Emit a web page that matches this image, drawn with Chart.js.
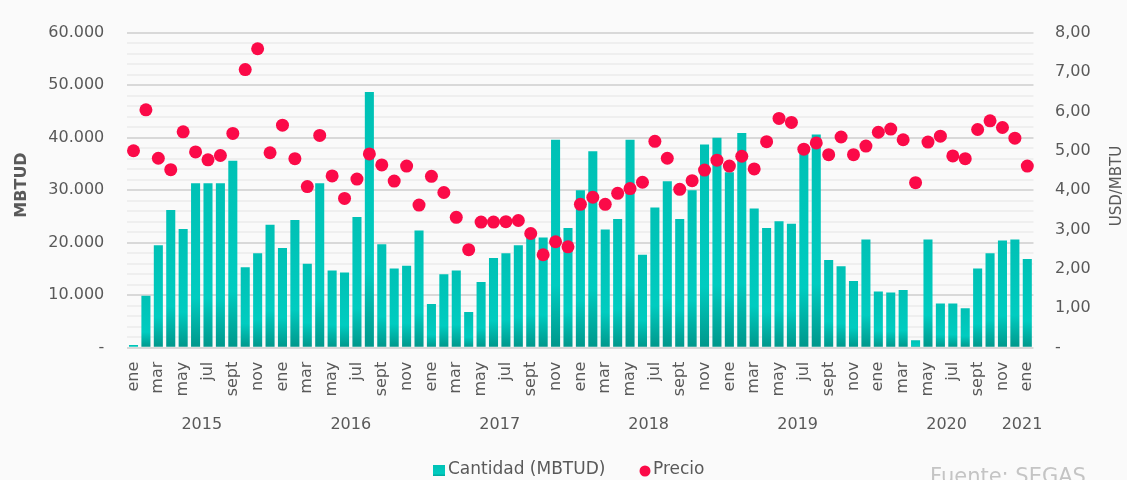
<!DOCTYPE html>
<html><head><meta charset="utf-8">
<script src="https://cdn.jsdelivr.net/npm/chart.js@4.4.1/dist/chart.umd.min.js"></script>
<style>html,body{margin:0;padding:0;background:#fafafa;overflow:hidden}#wrap{width:1127px;height:480px;position:relative}</style>
</head><body><div id="wrap"><canvas id="c" width="1127" height="480"></canvas></div>
<script>
const categories = [
 'ene','feb','mar','abr','may','jun','jul','ago','sept','oct','nov','dic',
 'ene','feb','mar','abr','may','jun','jul','ago','sept','oct','nov','dic',
 'ene','feb','mar','abr','may','jun','jul','ago','sept','oct','nov','dic',
 'ene','feb','mar','abr','may','jun','jul','ago','sept','oct','nov','dic',
 'ene','feb','mar','abr','may','jun','jul','ago','sept','oct','nov','dic',
 'ene','feb','mar','abr','may','jun','jul','ago','sept','oct','nov','dic',
 'ene'];
const years = ['2015','2016','2017','2018','2019','2020','2021'];
const yearFirstIndex = [0,12,24,36,48,60,72];
const yearLastIndex = [11,23,35,47,59,71,72];
const cantidad = [
 500,9900,19500,26200,22600,31300,31300,31300,35600,15300,18000,23400,
 19000,24300,16000,31300,14700,14300,24900,48700,19700,15100,15600,22300,
 8300,14000,14700,6800,12500,17100,18000,19500,21500,21000,39600,22800,
 30000,37400,22500,24500,39600,17700,26700,31700,24500,30000,38700,40000,
 33400,40900,26500,22800,24100,23600,37800,40600,16700,15500,12700,20600,
 10700,10500,11000,1400,20600,8400,8400,7500,15100,18000,20400,20600,
 16900];
const precio = [
 5.00,6.04,4.81,4.52,5.48,4.97,4.77,4.88,5.44,7.06,7.59,4.95,
 5.65,4.80,4.09,5.39,4.36,3.79,4.28,4.92,4.64,4.23,4.61,3.62,
 4.35,3.94,3.31,2.49,3.19,3.19,3.20,3.23,2.90,2.36,2.69,2.56,
 3.64,3.82,3.64,3.92,4.04,4.20,5.24,4.81,4.02,4.24,4.51,4.76,
 4.61,4.86,4.54,5.23,5.82,5.72,5.04,5.20,4.90,5.35,4.90,5.12,
 5.47,5.55,5.28,4.19,5.22,5.37,4.87,4.80,5.54,5.76,5.59,5.32,
 4.61];
const seriesNames = ['Cantidad (MBTUD)','Precio'];
const leftTitle = 'MBTUD';
const rightTitle = 'USD/MBTU';
const sourceText = 'Fuente: SEGAS';

const FONT = "'DejaVu Sans', sans-serif";
const TXT = '#595959';
const RED = '#fb0a48';

function barGradient(ctx, top, bottom) {
  const g = ctx.createLinearGradient(0, bottom, 0, top);
  g.addColorStop(0, '#00968a');
  g.addColorStop(0.3, '#00ccc0');
  g.addColorStop(1, '#00c1b5');
  return g;
}

const fmtThousands = v => String(v).replace(/\B(?=(\d{3})+(?!\d))/g, '.');

const extras = {
  id: 'extras',
  afterDraw(chart) {
    const c = chart.ctx;
    const x = chart.scales.x;
    c.save();
    c.fillStyle = TXT;
    c.font = '16px ' + FONT;
    c.textAlign = 'center';
    c.textBaseline = 'middle';
    years.forEach((yr, i) => {
      const px = (x.getPixelForValue(yearFirstIndex[i]) + x.getPixelForValue(yearLastIndex[i])) / 2;
      c.fillText(yr, Math.min(px, 1022), 425);
    });
    c.save();
    c.translate(22, 185);
    c.rotate(-Math.PI / 2);
    c.font = 'bold 16px ' + FONT;
    c.fillText(leftTitle, 0, 0);
    c.restore();
    c.save();
    c.translate(1117, 186);
    c.rotate(-Math.PI / 2);
    c.font = '15px ' + FONT;
    c.fillText(rightTitle, 0, 0);
    c.restore();
    c.font = '17px ' + FONT;
    c.textAlign = 'left';
    c.fillStyle = barGradient(c, 465, 477);
    c.fillRect(433, 465, 12, 11);
    c.fillStyle = TXT;
    c.fillText(seriesNames[0], 448, 470);
    c.fillStyle = RED;
    c.beginPath();
    c.arc(645, 471, 5.5, 0, Math.PI * 2);
    c.fill();
    c.fillStyle = TXT;
    c.fillText(seriesNames[1], 653, 470);
    c.fillStyle = '#c4c4c4';
    c.font = '21px ' + FONT;
    c.textBaseline = 'alphabetic';
    c.fillText(sourceText, 930, 483);
    c.restore();
  }
};

new Chart(document.getElementById('c'), {
  data: {
    labels: categories,
    datasets: [
      {
        type: 'line',
        label: seriesNames[1],
        data: precio,
        yAxisID: 'y2',
        showLine: false,
        pointRadius: 6.5,
        pointBorderWidth: 0,
        pointBackgroundColor: RED,
        pointBorderColor: RED,
        order: 0
      },
      {
        type: 'bar',
        label: seriesNames[0],
        data: cantidad,
        yAxisID: 'y',
        barPercentage: 0.73,
        categoryPercentage: 1,
        order: 1,
        backgroundColor: (ctx) => {
          const chart = ctx.chart;
          if (!chart.chartArea || ctx.type !== 'data') return '#00c4b8';
          const ys = chart.scales.y;
          const top = ys.getPixelForValue(ctx.raw);
          const bottom = ys.getPixelForValue(0);
          return barGradient(chart.ctx, Math.min(top, bottom - 1), bottom);
        }
      }
    ]
  },
  options: {
    responsive: false,
    devicePixelRatio: 1,
    animation: false,
    layout: { padding: { top: 23, left: 0, right: 0, bottom: 0 } },
    plugins: { legend: { display: false }, tooltip: { enabled: false } },
    scales: {
      x: {
        type: 'category',
        offset: true,
        grid: { display: false, drawTicks: false },
        border: { display: false },
        ticks: {
          autoSkip: false, maxRotation: 90, minRotation: 90, padding: 14,
          color: TXT, font: { family: FONT, size: 16 },
          callback: (v, i) => (i % 2 === 0 ? categories[i] : '')
        },
        afterFit: s => { s.height = 480 - 347.7; }
      },
      y: {
        position: 'left', min: 0, max: 60000,
        border: { display: false },
        grid: {
          drawTicks: false,
          color: ctx => (ctx.tick && ctx.tick.value % 10000 === 0 ? '#d9d9d9' : '#efefef'),
          lineWidth: 2
        },
        ticks: {
          stepSize: 2000, autoSkip: false, padding: 23,
          color: TXT, font: { family: FONT, size: 16 },
          callback: v => (v === 0 ? '-' : (v % 10000 === 0 ? fmtThousands(v) : ''))
        },
        afterFit: s => { s.width = 127.3; }
      },
      y2: {
        position: 'right', min: 0, max: 8,
        border: { display: false },
        grid: { display: false, drawTicks: false },
        ticks: {
          stepSize: 1, padding: 21.5,
          color: TXT, font: { family: FONT, size: 16 },
          callback: v => (v === 0 ? '-' : v.toFixed(2).replace('.', ','))
        },
        afterFit: s => { s.width = 1127 - 1033.5; }
      }
    }
  },
  plugins: [extras]
});
</script>
</body></html>
